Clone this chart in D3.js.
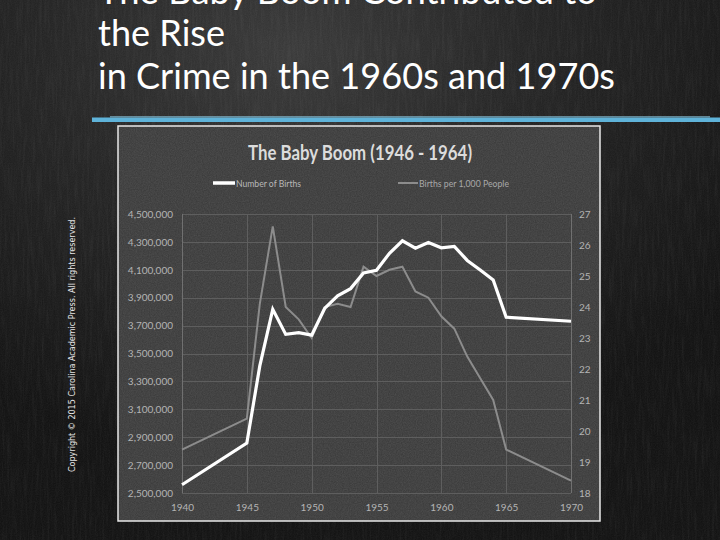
<!DOCTYPE html>
<html>
<head>
<meta charset="utf-8">
<script src="https://cdn.jsdelivr.net/npm/d3@7"></script>
<style>
  html, body { margin: 0; padding: 0; background: #1a1a1a; }
  svg { display: block; }
</style>
</head>
<body>
<div id="chart"></div>
<script>
// ---- Data ----
const years = [1940, 1945, 1946, 1947, 1948, 1949, 1950, 1951, 1952, 1953, 1954, 1955,
               1956, 1957, 1958, 1959, 1960, 1961, 1962, 1963, 1964, 1965, 1970];
const births = [2559000, 2858000, 3411000, 3817000, 3637000, 3649000, 3632000, 3823000,
                3913000, 3965000, 4078000, 4097000, 4218000, 4308000, 4255000, 4295000,
                4258000, 4268000, 4167000, 4098000, 4027000, 3760000, 3731000];
const birthRate = [19.4, 20.4, 24.1, 26.6, 24.0, 23.6, 23.0, 24.0, 24.1, 24.0, 25.3, 25.0,
                   25.2, 25.3, 24.5, 24.3, 23.7, 23.3, 22.4, 21.7, 21.0, 19.4, 18.4];
const xTicks = [1940, 1945, 1950, 1955, 1960, 1965, 1970];
const leftTicks = [2500000, 2700000, 2900000, 3100000, 3300000, 3500000, 3700000,
                   3900000, 4100000, 4300000, 4500000];
const rightTicks = [18, 19, 20, 21, 22, 23, 24, 25, 26, 27];
const slideTitle = ["The Baby Boom Contributed to", "the Rise", "in Crime in the 1960s and 1970s"];
const chartTitle = "The Baby Boom (1946 - 1964)";
const seriesNames = ["Number of Births", "Births per 1,000 People"];
const copyright = "Copyright \u00A9 2015 Carolina Academic Press. All rights reserved.";

// ---- Layout ----
const W = 720, H = 540;
const svg = d3.select("#chart").append("svg").attr("width", W).attr("height", H);
const defs = svg.append("defs");

// chalkboard background
const bg = defs.append("radialGradient").attr("id", "bgGrad")
  .attr("cx", "0.40").attr("cy", "0.10").attr("r", "0.75");
bg.append("stop").attr("offset", "0").attr("stop-color", "#3a3a3a");
bg.append("stop").attr("offset", "0.45").attr("stop-color", "#252525");
bg.append("stop").attr("offset", "1").attr("stop-color", "#131313");

const noise = defs.append("filter").attr("id", "noise").attr("x", 0).attr("y", 0)
  .attr("width", "100%").attr("height", "100%");
noise.append("feTurbulence").attr("type", "fractalNoise").attr("baseFrequency", "0.85")
  .attr("numOctaves", 2).attr("seed", 4).attr("result", "t");
noise.append("feColorMatrix").attr("type", "matrix")
  .attr("values", "0 0 0 0 1  0 0 0 0 1  0 0 0 0 1  0.9 0 0 0 -0.2");

const streaks = defs.append("filter").attr("id", "streaks").attr("x", 0).attr("y", 0)
  .attr("width", "100%").attr("height", "100%");
streaks.append("feTurbulence").attr("type", "fractalNoise").attr("baseFrequency", "0.4 0.03")
  .attr("numOctaves", 3).attr("seed", 7);
streaks.append("feColorMatrix").attr("type", "matrix")
  .attr("values", "0 0 0 0 1  0 0 0 0 1  0 0 0 0 1  0.6 0 0 0 -0.25");

svg.append("rect").attr("width", W).attr("height", H).attr("fill", "url(#bgGrad)");
svg.append("rect").attr("width", W).attr("height", H).attr("filter", "url(#streaks)").attr("opacity", 0.15);
svg.append("rect").attr("width", W).attr("height", H).attr("filter", "url(#noise)").attr("opacity", 0.07);

// slide title
const titleLens = [499, 127, 517];
const titleBase = [4, 46, 89];
slideTitle.forEach((t, i) => {
  svg.append("text").attr("x", 98).attr("y", titleBase[i])
    .attr("font-family", "Lato, 'Open Sans', sans-serif").attr("font-size", 37)
    .attr("fill", "#ffffff").attr("textLength", titleLens[i])
    .attr("lengthAdjust", "spacingAndGlyphs").text(t);
});

// blue brush line
svg.append("rect").attr("x", 92).attr("y", 117.5).attr("width", 628).attr("height", 4.5)
  .attr("fill", "#5fb3d9");
svg.append("rect").attr("x", 110).attr("y", 116).attr("width", 600).attr("height", 1.5)
  .attr("fill", "#8ccbe6").attr("opacity", 0.6);

// copyright vertical text
svg.append("text").attr("transform", "translate(75,472) rotate(-90)")
  .attr("font-family", "'DejaVu Sans', sans-serif").attr("font-size", 8)
  .attr("fill", "#e6e6e6").attr("textLength", 255).attr("lengthAdjust", "spacingAndGlyphs")
  .text(copyright);

// chart frame
const frame = {x: 118, y: 126, w: 482, h: 395};
svg.append("rect").attr("x", frame.x).attr("y", frame.y).attr("width", frame.w).attr("height", frame.h)
  .attr("fill", "#3d3d3d");
svg.append("rect").attr("x", frame.x).attr("y", frame.y).attr("width", frame.w).attr("height", frame.h)
  .attr("filter", "url(#noise)").attr("opacity", 0.14);
svg.append("rect").attr("x", frame.x).attr("y", frame.y).attr("width", frame.w).attr("height", frame.h)
  .attr("fill", "none").attr("stroke", "#e8e8e8").attr("stroke-width", 1.5);

// scales
const x = d3.scaleLinear().domain([1940, 1970]).range([182, 571]);
const yL = d3.scaleLinear().domain([2500000, 4500000]).range([493, 214]);
const yR = d3.scaleLinear().domain([18, 27]).range([493, 214]);

// gridlines
const grid = svg.append("g").attr("stroke", "#5e5e5e").attr("stroke-width", 1);
grid.selectAll("line.h").data(leftTicks).join("line").attr("class", "h")
  .attr("x1", x(1940)).attr("x2", x(1970))
  .attr("y1", d => Math.round(yL(d)) + 0.5).attr("y2", d => Math.round(yL(d)) + 0.5);
grid.selectAll("line.v").data(xTicks).join("line").attr("class", "v")
  .attr("x1", d => Math.round(x(d)) + 0.5).attr("x2", d => Math.round(x(d)) + 0.5)
  .attr("y1", yL(4500000)).attr("y2", yL(2500000))
  .attr("stroke", d => (d === 1940 || d === 1970) ? "#707070" : "#5e5e5e");

// axes
const tickFont = "Lato, 'Liberation Sans', sans-serif";
const gL = svg.append("g").attr("transform", `translate(${x(1940)},0)`)
  .call(d3.axisLeft(yL).tickValues(leftTicks).tickFormat(d3.format(",")).tickSize(0).tickPadding(9));
const gR = svg.append("g").attr("transform", `translate(${x(1970)},0)`)
  .call(d3.axisRight(yR).tickValues(rightTicks).tickFormat(d3.format("d")).tickSize(0).tickPadding(8));
const gB = svg.append("g").attr("transform", `translate(0,${yL(2500000)})`)
  .call(d3.axisBottom(x).tickValues(xTicks).tickFormat(d3.format("d")).tickSize(0).tickPadding(11));
[gL, gR, gB].forEach(g => {
  g.select(".domain").remove();
  g.selectAll("text").attr("font-family", tickFont).attr("font-size", 10).attr("fill", "#b4b4b4");
});

// lines
const data = years.map((yr, i) => ({year: yr, births: births[i], rate: birthRate[i]}));
svg.append("path").datum(data)
  .attr("fill", "none").attr("stroke", "#8c8c8c").attr("stroke-width", 2)
  .attr("stroke-linejoin", "miter")
  .attr("d", d3.line().x(d => x(d.year)).y(d => yR(d.rate)));
svg.append("path").datum(data)
  .attr("fill", "none").attr("stroke", "#ffffff").attr("stroke-width", 3.2)
  .attr("stroke-linejoin", "miter")
  .attr("d", d3.line().x(d => x(d.year)).y(d => yL(d.births)));

// chart title
svg.append("text").attr("x", 360).attr("y", 160).attr("text-anchor", "middle")
  .attr("font-family", "Lato, 'Open Sans', sans-serif").attr("font-weight", "bold")
  .attr("font-size", 20).attr("fill", "#dcdcdc")
  .attr("textLength", 224).attr("lengthAdjust", "spacingAndGlyphs").text(chartTitle);

// legend
const legend = svg.append("g");
legend.append("line").attr("x1", 213).attr("x2", 235).attr("y1", 183).attr("y2", 183)
  .attr("stroke", "#ffffff").attr("stroke-width", 3.5);
legend.append("text").attr("x", 236).attr("y", 186.5)
  .attr("font-family", tickFont).attr("font-size", 9.5).attr("fill", "#b8b8b8")
  .attr("textLength", 65).attr("lengthAdjust", "spacingAndGlyphs").text(seriesNames[0]);
legend.append("line").attr("x1", 398).attr("x2", 418).attr("y1", 183).attr("y2", 183)
  .attr("stroke", "#8c8c8c").attr("stroke-width", 2);
legend.append("text").attr("x", 419).attr("y", 186.5)
  .attr("font-family", tickFont).attr("font-size", 9.5).attr("fill", "#a8a8a8")
  .attr("textLength", 90).attr("lengthAdjust", "spacingAndGlyphs").text(seriesNames[1]);
</script>
</body>
</html>
